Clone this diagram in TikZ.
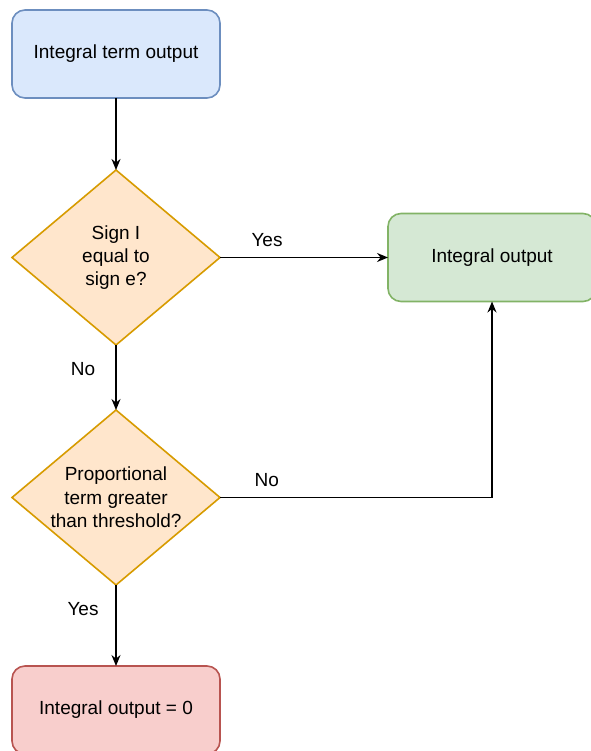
\documentclass[tikz,border=0pt]{standalone}
\usepackage{fontspec}
\setmainfont{Liberation Sans}
\usepackage{tikz}
\usetikzlibrary{shapes.geometric, arrows.meta, positioning}
\definecolor{startfill}{HTML}{DAE8FC}
\definecolor{startdraw}{HTML}{6C8EBF}
\definecolor{okfill}{HTML}{D5E8D4}
\definecolor{okdraw}{HTML}{82B366}
\definecolor{askfill}{HTML}{FFE6CC}
\definecolor{askdraw}{HTML}{D79B00}
\definecolor{zerofill}{HTML}{F8CECC}
\definecolor{zerodraw}{HTML}{B85450}

\begin{document}
\begin{tikzpicture}[
    x=1pt, y=-1pt,
    every node/.style={font=\fontsize{19}{23.3}\selectfont, align=center},
    procbox/.style={rounded corners=13pt, minimum width=208pt, minimum height=88pt, outer sep=0pt, line width=1.6pt},
    askbox/.style={diamond, draw=askdraw, fill=askfill, minimum width=208pt, minimum height=175pt, inner sep=0pt, outer sep=0pt, line width=1.6pt},
    arr/.style={-{Stealth[length=11pt, width=9pt]}, line width=1.5pt, color=black}
]
\useasboundingbox (0,0) rectangle (590,751);

% Column of steps
\node[procbox, draw=startdraw, fill=startfill] (intterm) at (116,54) {Integral term output};
\node[askbox, below=72pt of intterm, label={[align=center]center:Sign I\\equal to\\sign e?}] (signq) {};
\node[askbox, below=65pt of signq, label={[align=center]center:Proportional\\term greater\\than threshold?}] (threshq) {};
\node[procbox, draw=zerodraw, fill=zerofill, below=81pt of threshq] (zeroout) {Integral output = 0};

% Side result
\node[procbox, draw=okdraw, fill=okfill, right=168pt of signq] (intout) {Integral output};

% Connections
\draw[arr] (intterm) -- (signq);
\draw[arr] (signq.east) -- node[pos=0.28, yshift=17pt] (yesa) {Yes} (intout.west);
\draw[arr] (signq.south) -- node[pos=0.37, xshift=-33pt] (noa) {No} (threshq.north);
\draw[arr] (threshq.east) -| node[pos=0.086, yshift=17pt] (nob) {No} (intout.south);
\draw[arr] (threshq.south) -- node[pos=0.3, xshift=-33pt] (yesb) {Yes} (zeroout.north);

\end{tikzpicture}
\end{document}
